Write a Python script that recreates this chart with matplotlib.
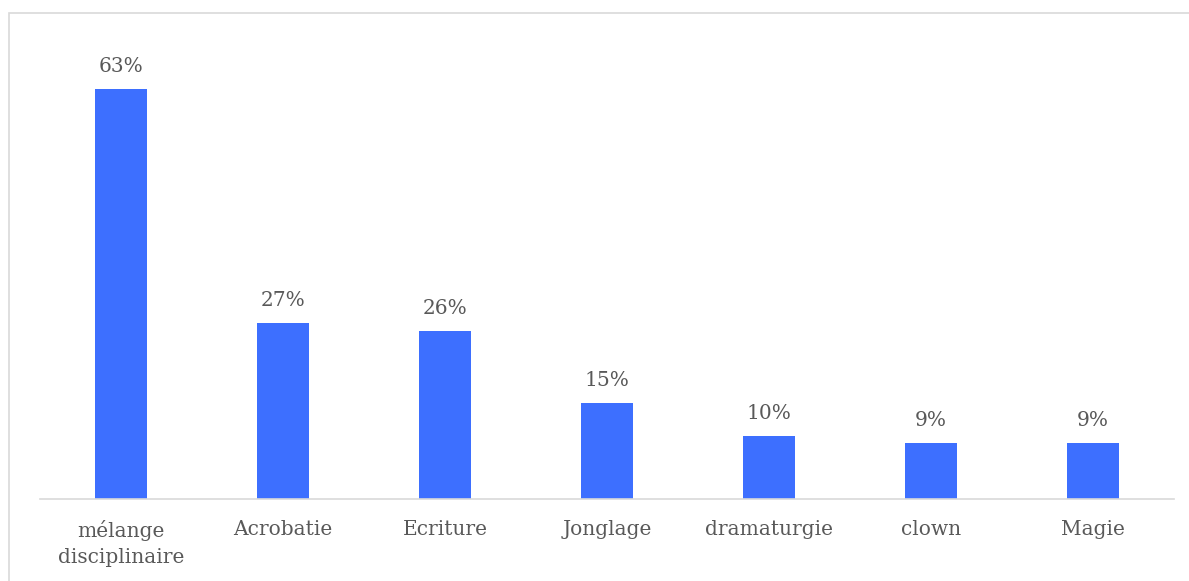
import matplotlib
matplotlib.use('Agg')
import matplotlib.pyplot as plt
from matplotlib.patches import Rectangle

categories = ['mélange\ndisciplinaire', 'Acrobatie', 'Ecriture', 'Jonglage',
              'dramaturgie', 'clown', 'Magie']
# bar heights, labels as printed
values = [63.0, 27.0, 25.8, 14.7, 9.7, 8.6, 8.6]
labels = ['63%', '27%', '26%', '15%', '10%', '9%', '9%']

W, H = 1189, 581
fig = plt.figure(figsize=(W / 100, H / 100), dpi=100)
plt.rcParams['font.family'] = ['DejaVu Serif']

# axes box in pixels: left 40, right 1174, baseline 499, top 20
ax = fig.add_axes([40 / W, (H - 499) / H, (1174 - 40) / W, (499 - 20) / H])
x = range(len(values))
bars = ax.bar(x, values, width=0.315, color='#3D6FFF')

ax.set_xlim(-0.5, len(values) - 0.5)
ax.set_ylim(0, 479 / 6.51)

for b, v, lab in zip(bars, values, labels):
    ax.text(b.get_x() + b.get_width() / 2, v + 2.0, lab, ha='center', va='bottom',
            fontsize=14.5, color='#595959')

ax.set_xticks(list(x))
ax.set_xticklabels(categories, fontsize=14.5, color='#595959', linespacing=1.45)
ax.tick_params(axis='x', length=0, pad=15)
ax.set_yticks([])
for s in ['top', 'right', 'left']:
    ax.spines[s].set_visible(False)
ax.spines['bottom'].set_color('#D9D9D9')
ax.spines['bottom'].set_linewidth(1.2)

# light outer frame
fig.patches.append(Rectangle((9 / W, -0.05), 1.0, (H - 13) / H + 0.05, transform=fig.transFigure,
                             fill=False, edgecolor='#D9D9D9', linewidth=1.2))

fig.savefig('out.png', dpi=100)
